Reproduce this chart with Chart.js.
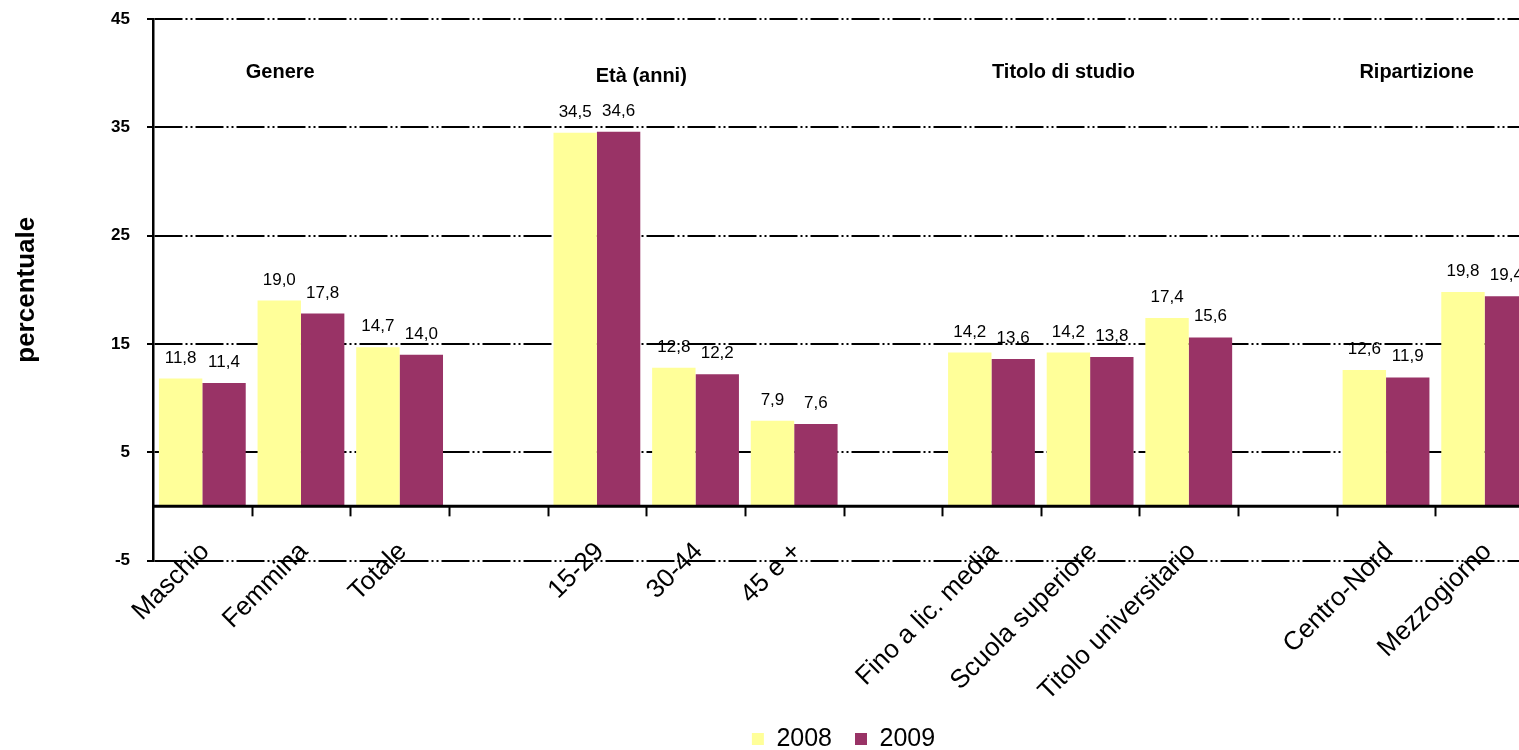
<!DOCTYPE html>
<html>
<head>
<meta charset="utf-8">
<script src="https://cdn.jsdelivr.net/npm/chart.js@4.4.1/dist/chart.umd.min.js"></script>
<style>
  html, body { margin: 0; padding: 0; overflow: hidden; background: #fff; }
  #wrap { width: 1545px; height: 750px; position: relative; }
</style>
</head>
<body>
<div id="wrap"><canvas id="chart"></canvas></div>
<script>
const categories = [
  "Maschio", "Femmina", "Totale", "",
  "15-29", "30-44", "45 e +", "",
  "Fino a lic. media", "Scuola superiore", "Titolo universitario", "",
  "Centro-Nord", "Mezzogiorno"
];
const values2008 = [11.8, 19.0, 14.7, null, 34.5, 12.8, 7.9, null, 14.2, 14.2, 17.4, null, 12.6, 19.8];
const values2009 = [11.4, 17.8, 14.0, null, 34.6, 12.2, 7.6, null, 13.6, 13.8, 15.6, null, 11.9, 19.4];
const yTicks = [-5, 5, 15, 25, 35, 45];
const groupLabels = ["Genere", "Età (anni)", "Titolo di studio", "Ripartizione"];

const FONT = "'Liberation Sans', Arial, sans-serif";
const fmt = (v) => v.toFixed(1).replace(".", ",");

// group headings sit at fractional category positions
const groupAt = [0.79, 4.45, 8.73, 12.31];

const extras = {
  id: "extras",
  afterDatasetsDraw(chart) {
    const { ctx, scales: { x, y } } = chart;
    const zero = y.getPixelForValue(0);
    const step = x.getPixelForValue(1) - x.getPixelForValue(0);

    ctx.save();
    // zero line + tick marks between categories
    ctx.strokeStyle = "#000";
    ctx.lineWidth = 3;
    ctx.beginPath();
    ctx.moveTo(chart.chartArea.left, zero);
    ctx.lineTo(chart.chartArea.right, zero);
    ctx.stroke();
    ctx.lineWidth = 2;
    for (let i = 1; i < categories.length; i++) {
      const px = Math.round(x.getPixelForValue(i) - step / 2) + 0.5;
      ctx.beginPath();
      ctx.moveTo(px, zero);
      ctx.lineTo(px, zero + 10);
      ctx.stroke();
    }

    // value labels
    ctx.fillStyle = "#000";
    ctx.font = "17px " + FONT;
    ctx.textAlign = "center";
    ctx.textBaseline = "alphabetic";
    chart.data.datasets.forEach((ds, di) => {
      const meta = chart.getDatasetMeta(di);
      meta.data.forEach((bar, i) => {
        const v = ds.data[i];
        if (v == null) return;
        ctx.fillText(fmt(v), bar.x, bar.y - 16);
      });
    });

    // group headings
    ctx.font = "bold 20px " + FONT;
    groupLabels.forEach((t, i) => {
      const px = x.getPixelForValue(0) + groupAt[i] * step;
      ctx.fillText(t, px, i === 1 ? 82 : 78);
    });

    // category labels, rotated 45 degrees, ending near the zero line
    ctx.font = "26px " + FONT;
    ctx.textAlign = "right";
    ctx.textBaseline = "middle";
    categories.forEach((t, i) => {
      if (!t) return;
      ctx.save();
      ctx.translate(x.getPixelForValue(i) + 3, zero + 41);
      ctx.rotate(-Math.PI / 4);
      ctx.fillText(t, 0, 0);
      ctx.restore();
    });
    ctx.restore();
  }
};

new Chart(document.getElementById("chart"), {
  type: "bar",
  data: {
    labels: categories,
    datasets: [
      { label: "2008", data: values2008, backgroundColor: "#FFFF99" },
      { label: "2009", data: values2009, backgroundColor: "#993366" }
    ]
  },
  options: {
    responsive: true,
    maintainAspectRatio: false,
    animation: false,
    layout: { padding: { top: 19, left: 0, right: 11, bottom: -11.5 } },
    datasets: { bar: { categoryPercentage: 0.88, barPercentage: 1.0 } },
    plugins: {
      tooltip: { enabled: false },
      legend: {
        position: "bottom",
        fullSize: false,
        labels: {
          color: "#000",
          font: { family: FONT, size: 25 },
          boxWidth: 12,
          boxHeight: 12,
          padding: 23
        }
      }
    },
    scales: {
      x: {
        grid: { display: false, drawTicks: false },
        border: { display: false },
        ticks: { display: false },
        afterFit(s) { s.height = 143; }
      },
      y: {
        min: -5,
        max: 45,
        afterBuildTicks(s) { s.ticks = yTicks.map((v) => ({ value: v })); },
        grid: { color: "#000", lineWidth: 2, tickLength: 6, tickColor: "#000", tickWidth: 2 },
        border: { display: true, color: "#000", width: 2.5, dash: [28, 3, 2, 3, 2, 3] },
        ticks: {
          color: "#000",
          font: { family: FONT, size: 17, weight: "bold" },
          padding: 17
        },
        title: {
          display: true,
          text: "percentuale",
          color: "#000",
          font: { family: FONT, size: 26, weight: "bold" },
          padding: { top: 11, bottom: 0 }
        },
        afterFit(s) {
          s.width = 153;
          s.paddingTop = 10;
          s.paddingBottom = 10;
        }
      }
    }
  },
  plugins: [extras]
});
</script>
</body>
</html>
